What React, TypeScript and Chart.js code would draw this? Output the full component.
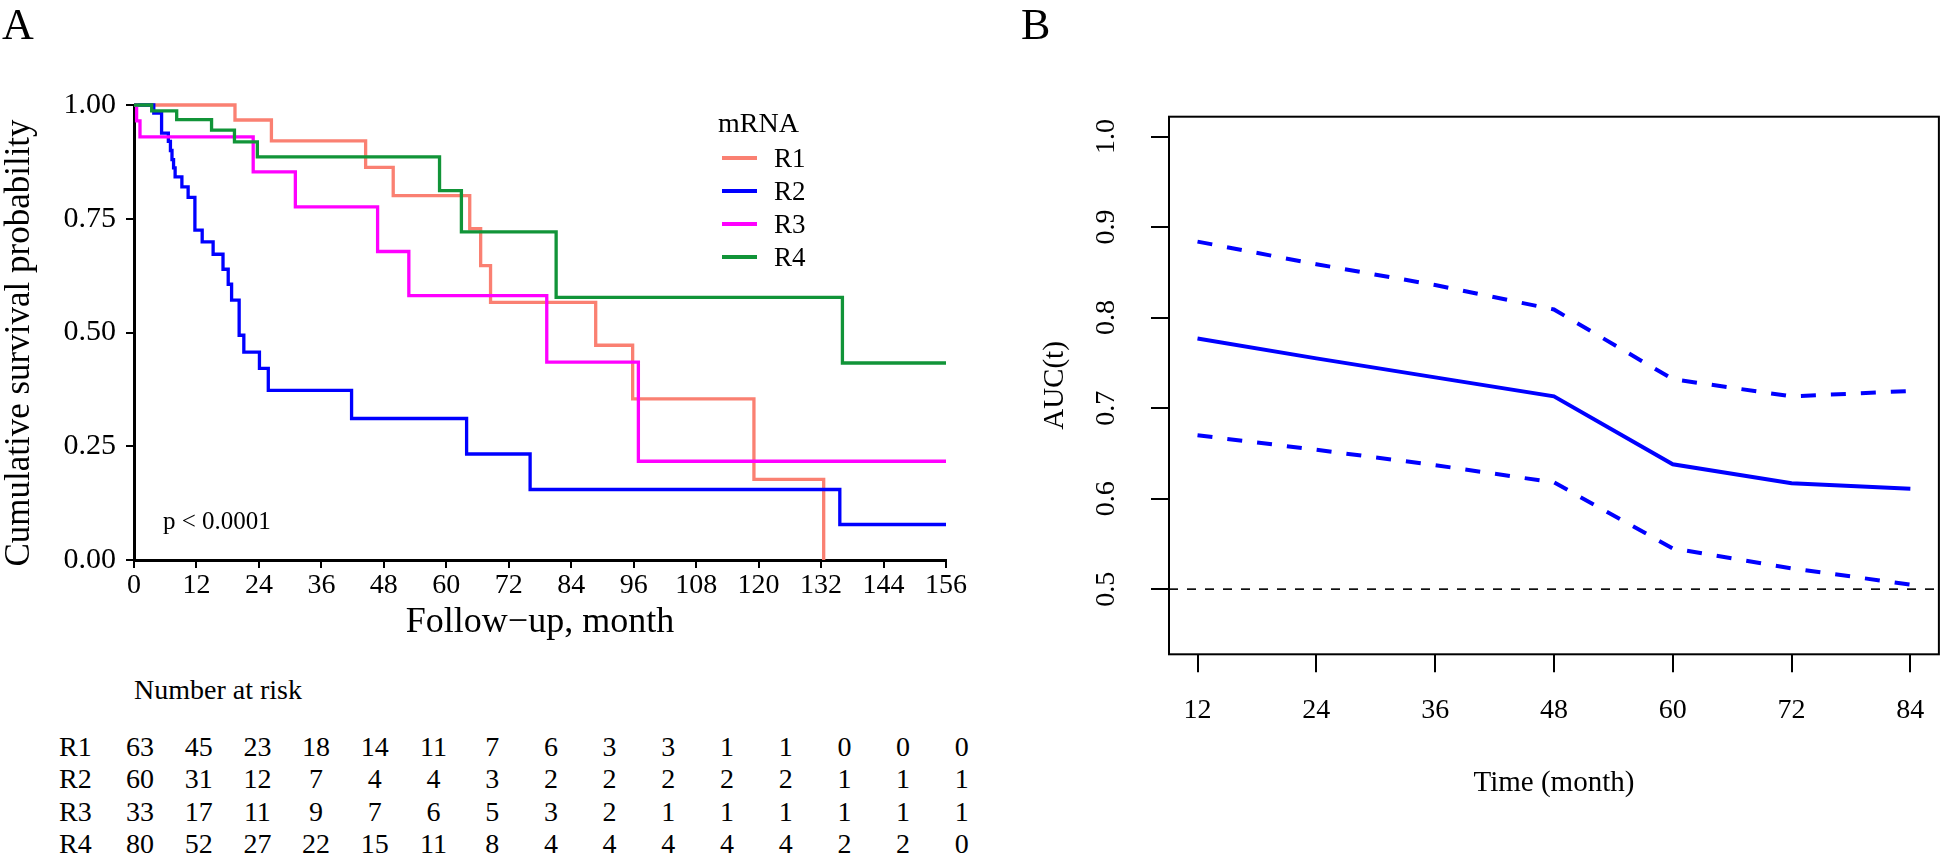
import React, { useEffect, useRef } from 'react';
import { Chart, registerables } from 'chart.js';

Chart.register(...registerables);

const SERIF = '"Liberation Serif", "Times New Roman", serif';

// ---------- Panel A : Kaplan-Meier ----------
const kmXTicks = [0, 12, 24, 36, 48, 60, 72, 84, 96, 108, 120, 132, 144, 156];
const kmYTicks = [0, 0.25, 0.5, 0.75, 1];
const groupNames = ['R1', 'R2', 'R3', 'R4'];
const groupColors = ['#FA8072', '#0000FF', '#FF00FF', '#119438'];

const r1Times = [0, 19.4, 26.4, 44.5, 49.8, 64.5, 66.6, 68.5, 88.7, 95.8, 119.1, 132.5];
const r1Surv = [1, 0.967, 0.921, 0.863, 0.801, 0.728, 0.647, 0.566, 0.472, 0.354, 0.177, 0];

const r2Times = [0, 3.8, 5.3, 6.6, 7.0, 7.3, 7.6, 7.9, 9.2, 10.4, 11.7, 13.1, 15.2, 17.1, 18.1, 18.75, 20.2, 21.1, 24.1, 25.8, 41.8, 63.9, 76.1, 135.6, 156];
const r2Surv = [1, 0.982, 0.938, 0.92, 0.9, 0.88, 0.862, 0.842, 0.82, 0.797, 0.725, 0.699, 0.672, 0.639, 0.606, 0.571, 0.494, 0.457, 0.421, 0.373, 0.311, 0.233, 0.155, 0.078, 0.078];

const r3Times = [0, 0.5, 1.15, 22.9, 31.0, 46.8, 52.8, 79.3, 96.9, 156];
const r3Surv = [1, 0.965, 0.93, 0.853, 0.776, 0.678, 0.581, 0.435, 0.217, 0.217];

const r4Times = [0, 3.4, 8.2, 14.9, 19.3, 23.7, 58.7, 62.9, 81.1, 136.1, 156];
const r4Surv = [1, 0.987, 0.968, 0.945, 0.919, 0.886, 0.812, 0.721, 0.577, 0.433, 0.433];

const pValueText = 'p < 0.0001';

// Number at risk table
const riskR1 = [63, 45, 23, 18, 14, 11, 7, 6, 3, 3, 1, 1, 0, 0, 0];
const riskR2 = [60, 31, 12, 7, 4, 4, 3, 2, 2, 2, 2, 2, 1, 1, 1];
const riskR3 = [33, 17, 11, 9, 7, 6, 5, 3, 2, 1, 1, 1, 1, 1, 1];
const riskR4 = [80, 52, 27, 22, 15, 11, 8, 4, 4, 4, 4, 4, 2, 2, 0];

// ---------- Panel B : time-dependent AUC ----------
const aucTimes = [12, 24, 36, 48, 60, 72, 84];
const aucValues = [0.777, 0.755, 0.734, 0.713, 0.638, 0.617, 0.611];
const aucUpper = [0.884, 0.859, 0.836, 0.809, 0.732, 0.713, 0.719];
const aucLower = [0.67, 0.654, 0.637, 0.618, 0.545, 0.523, 0.505];
const aucYTicks = [0.5, 0.6, 0.7, 0.8, 0.9, 1.0];
const aucYLim = [0.45, 1.0];
const aucRef = 0.5;

const toPoints = (xs: number[], ys: number[]) => xs.map((x, i) => ({ x, y: ys[i] }));

function KMChart() {
  const ref = useRef<HTMLCanvasElement | null>(null);
  useEffect(() => {
    const series = [
      [r1Times, r1Surv],
      [r2Times, r2Surv],
      [r3Times, r3Surv],
      [r4Times, r4Surv],
    ];
    const chart = new Chart(ref.current as HTMLCanvasElement, {
      type: 'line',
      data: {
        datasets: series.map((s, i) => ({
          label: groupNames[i],
          data: toPoints(s[0], s[1]),
          borderColor: groupColors[i],
          backgroundColor: groupColors[i],
          borderWidth: 3.3,
          pointRadius: 0,
          stepped: true,
          fill: false,
          clip: false,
          order: 3 - i,
        })),
      },
      options: {
        responsive: false,
        animation: false,
        events: [],
        layout: { padding: { left: 0, top: 105, right: 54, bottom: 0 } },
        plugins: { legend: { display: false }, tooltip: { enabled: false } },
        scales: {
          x: {
            type: 'linear',
            min: 0,
            max: 156,
            afterBuildTicks: (s: any) => { s.ticks = kmXTicks.map((v) => ({ value: v })); },
            afterFit: (s: any) => { s.height = 100; },
            grid: { drawOnChartArea: false, drawTicks: true, tickLength: 8, color: '#000', lineWidth: 2 },
            border: { display: true, color: '#000', width: 3 },
            ticks: { autoSkip: false, maxRotation: 0, color: '#000', padding: 1, font: { family: SERIF, size: 28 } },
            title: { display: true, text: 'Follow\u2212up, month', color: '#000', font: { family: SERIF, size: 36 }, padding: { top: 0, bottom: 15.4 } },
          },
          y: {
            type: 'linear',
            min: 0,
            max: 1,
            afterBuildTicks: (s: any) => { s.ticks = kmYTicks.map((v) => ({ value: v })); },
            afterFit: (s: any) => { s.width = 134; },
            grid: { drawOnChartArea: false, drawTicks: true, tickLength: 8, color: '#000', lineWidth: 2 },
            border: { display: true, color: '#000', width: 3 },
            ticks: { color: '#000', padding: 10, font: { family: SERIF, size: 30 }, callback: (v: any) => Number(v).toFixed(2) },
            title: { display: false },
          },
        },
      } as any,
    });
    return () => chart.destroy();
  }, []);
  return <canvas ref={ref} width={1000} height={660} style={{ position: 'absolute', left: 0, top: 0, width: 1000, height: 660 }} />;
}

const aucFramePlugin = {
  id: 'aucFrame',
  beforeDatasetsDraw(chart: any) {
    const { ctx, chartArea, scales } = chart;
    const y = scales.y.getPixelForValue(aucRef);
    ctx.save();
    ctx.strokeStyle = '#000';
    ctx.lineWidth = 1.6;
    ctx.setLineDash([9, 9]);
    ctx.beginPath();
    ctx.moveTo(chartArea.left, y);
    ctx.lineTo(chartArea.right, y);
    ctx.stroke();
    ctx.restore();
  },
  afterDraw(chart: any) {
    const { ctx, chartArea } = chart;
    ctx.save();
    ctx.strokeStyle = '#000';
    ctx.lineWidth = 2;
    ctx.strokeRect(chartArea.left, chartArea.top, chartArea.right - chartArea.left, chartArea.bottom - chartArea.top);
    ctx.restore();
  },
};

function AUCChart() {
  const ref = useRef<HTMLCanvasElement | null>(null);
  useEffect(() => {
    const xSpan = aucTimes[aucTimes.length - 1] - aucTimes[0];
    const ySpan = aucYLim[1] - aucYLim[0];
    const lineBase = { borderColor: '#0000FF', borderWidth: 4, pointRadius: 0, fill: false, tension: 0, clip: false, borderCapStyle: 'butt' };
    const chart = new Chart(ref.current as HTMLCanvasElement, {
      type: 'line',
      data: {
        datasets: [
          { ...lineBase, label: 'AUC', data: toPoints(aucTimes, aucValues) },
          { ...lineBase, label: 'Upper', data: toPoints(aucTimes, aucUpper), borderDash: [15, 15] },
          { ...lineBase, label: 'Lower', data: toPoints(aucTimes, aucLower), borderDash: [15, 15] },
        ],
      },
      options: {
        responsive: false,
        animation: false,
        events: [],
        layout: { padding: { left: 0, top: 116.7, right: 3.5, bottom: 0 } },
        plugins: { legend: { display: false }, tooltip: { enabled: false } },
        scales: {
          x: {
            type: 'linear',
            min: aucTimes[0] - 0.04 * xSpan,
            max: aucTimes[aucTimes.length - 1] + 0.04 * xSpan,
            afterBuildTicks: (s: any) => { s.ticks = aucTimes.map((v) => ({ value: v })); },
            afterFit: (s: any) => { s.height = 204.7; },
            grid: { drawOnChartArea: false, drawTicks: true, tickLength: 18, color: '#000', lineWidth: 2 },
            border: { display: false },
            ticks: { autoSkip: false, maxRotation: 0, color: '#000', padding: 21.5, font: { family: SERIF, size: 28 } },
            title: { display: true, text: 'Time (month)', color: '#000', font: { family: SERIF, size: 29 }, padding: { top: 0, bottom: 58.5 } },
          },
          y: {
            type: 'linear',
            min: aucYLim[0] - 0.04 * ySpan,
            max: aucYLim[1] + 0.04 * ySpan,
            afterBuildTicks: (s: any) => { s.ticks = aucYTicks.map((v) => ({ value: v })); },
            afterFit: (s: any) => { s.width = 169; },
            grid: { drawOnChartArea: false, drawTicks: true, tickLength: 18, color: '#000', lineWidth: 2 },
            border: { display: false },
            ticks: { color: '#000', padding: 27, minRotation: 90, maxRotation: 90, crossAlign: 'center', font: { family: SERIF, size: 28 }, callback: (v: any) => Number(v).toFixed(1) },
            title: { display: true, text: 'AUC(t)', color: '#000', font: { family: SERIF, size: 29, lineHeight: 1 }, padding: { top: 41, bottom: 0 } },
          },
        },
      } as any,
      plugins: [aucFramePlugin],
    });
    return () => chart.destroy();
  }, []);
  return <canvas ref={ref} width={946} height={859} style={{ position: 'absolute', left: 1000, top: 0, width: 946, height: 859 }} />;
}

const txt = (extra: React.CSSProperties): React.CSSProperties => ({
  position: 'absolute',
  fontFamily: SERIF,
  color: '#000',
  lineHeight: 1,
  whiteSpace: 'nowrap',
  ...extra,
});

const riskRowY = [747, 779.3, 811.6, 844];

export default function App() {
  const riskRows = [riskR1, riskR2, riskR3, riskR4];
  return (
    <div style={{ position: 'fixed', left: 0, top: 0, width: 1946, height: 859, background: '#fff', overflow: 'hidden' }}>
      <KMChart />
      <AUCChart />
      <div style={txt({ left: 2, top: 3, fontSize: 44 })}>A</div>
      <div style={txt({ left: 1021, top: 3, fontSize: 44 })}>B</div>
      <div style={txt({ left: 17, top: 343, fontSize: 35, transform: 'translate(-50%, -50%) rotate(-90deg)' })}>Cumulative survival probability</div>
      <div style={txt({ left: 163, top: 520, fontSize: 25, transform: 'translateY(-50%)' })}>{pValueText}</div>
      {/* legend */}
      <div style={txt({ left: 718, top: 123, fontSize: 28, transform: 'translateY(-50%)' })}>mRNA</div>
      {groupNames.map((g, i) => (
        <React.Fragment key={g}>
          <div style={{ position: 'absolute', left: 722, top: 158 + i * 33 - 2, width: 35, height: 4, background: groupColors[i] }} />
          <div style={txt({ left: 774, top: 158 + i * 33, fontSize: 27, transform: 'translateY(-50%)' })}>{g}</div>
        </React.Fragment>
      ))}
      {/* risk table */}
      <div style={txt({ left: 134, top: 690, fontSize: 28, transform: 'translateY(-50%)' })}>Number at risk</div>
      {riskRows.map((row, r) => (
        <React.Fragment key={r}>
          <div style={txt({ left: 59, top: riskRowY[r], fontSize: 28, transform: 'translateY(-50%)' })}>{groupNames[r]}</div>
          {row.map((v, c) => (
            <div key={c} style={txt({ left: 140 + c * 58.7, top: riskRowY[r], fontSize: 28, transform: 'translate(-50%, -50%)' })}>{v}</div>
          ))}
        </React.Fragment>
      ))}
    </div>
  );
}
